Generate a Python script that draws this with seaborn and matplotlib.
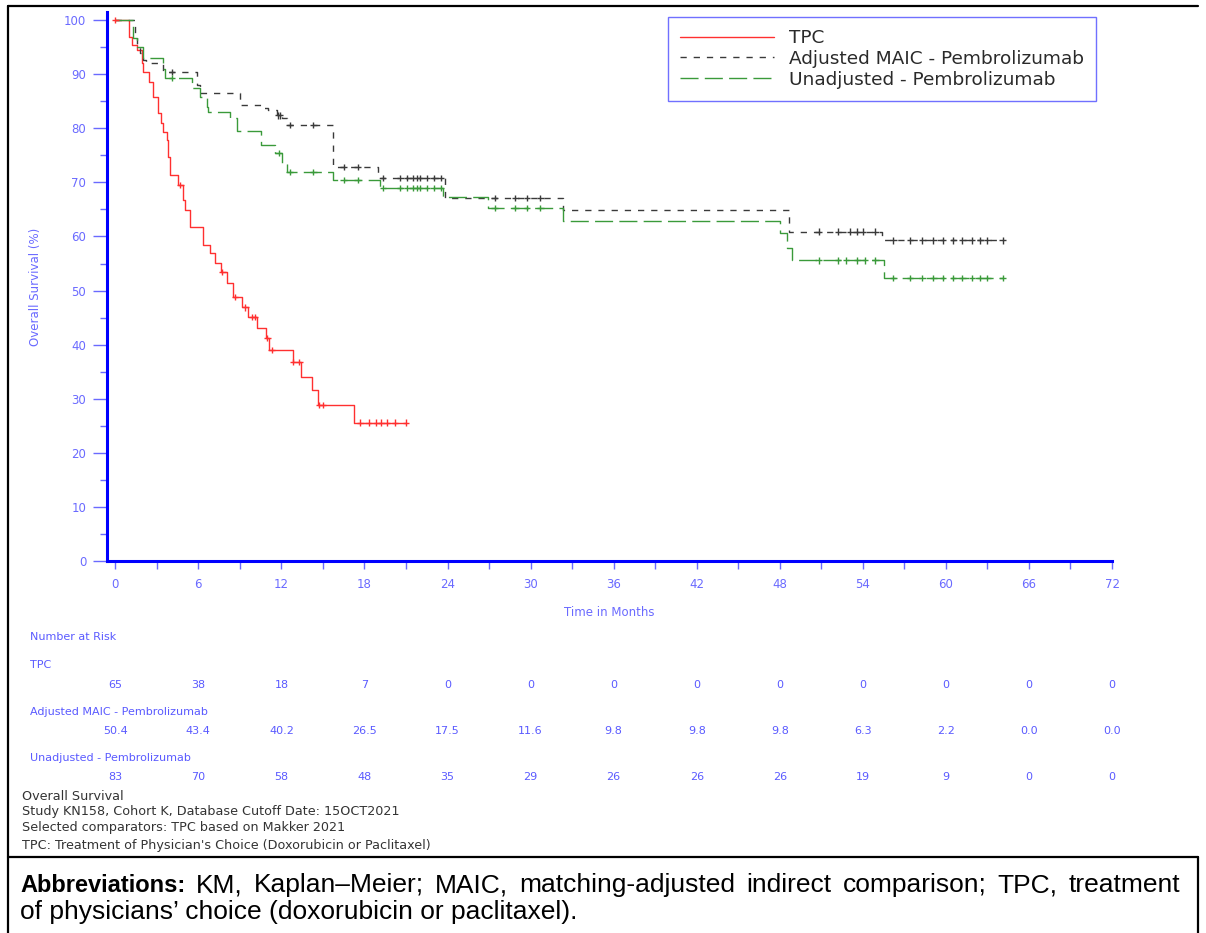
import numpy as np
import pandas as pd
import matplotlib
matplotlib.use('Agg')
import matplotlib.pyplot as plt
import matplotlib.transforms as mtransforms
from matplotlib.lines import Line2D
import seaborn as sns

groups = ['TPC', 'Adjusted MAIC - Pembrolizumab', 'Unadjusted - Pembrolizumab']

# Kaplan-Meier steps (months, % surviving)
tpc_t = [0, 0.98, 1.2, 1.6, 1.9, 2.0, 2.4, 2.75, 3.1, 3.3, 3.45, 3.7, 3.8, 3.95,
         4.5, 4.9, 5.05, 5.4, 6.35, 6.85, 7.2, 7.6, 8.1, 8.5, 9.17, 9.6, 10.25,
         10.9, 11.12, 12.85, 13.43, 14.22, 14.66, 17.26]
tpc_s = [100, 96.9, 95.4, 94.5, 92.0, 90.4, 88.5, 85.8, 82.8, 81.0, 79.3, 77.8, 74.7, 71.3,
         69.5, 66.7, 64.9, 61.7, 58.4, 56.9, 55.1, 53.4, 51.4, 48.8, 46.9, 45.1, 43.0,
         41.2, 39.0, 36.8, 34.0, 31.6, 28.8, 25.6]
tpc_end = 21.0
tpc_cens = [0, 4.7, 7.73, 8.65, 9.4, 9.9, 10.1, 10.98, 11.3, 12.85, 13.3, 14.7, 15.0,
            17.7, 18.3, 18.85, 19.2, 19.6, 20.2, 21.0]

adj_t = [0, 1.44, 1.6, 1.8, 2.0, 2.2, 3.47, 5.9, 6.1, 9.0, 10.5, 11.0, 11.7, 12.05,
         12.4, 15.75, 19.0, 23.8, 32.35, 48.7, 55.4]
adj_s = [100, 97.2, 95.0, 93.9, 92.6, 92.0, 90.4, 88.0, 86.5, 84.3, 83.7, 83.4, 82.4, 81.9,
         80.6, 72.8, 70.8, 67.1, 64.9, 60.9, 59.3]
adj_end = 64.1
adj_cens = [4.1, 11.75, 11.9, 12.6, 14.3, 16.5, 17.5, 19.35, 20.6, 21.1, 21.5, 21.8, 22.0,
            22.5, 23.0, 23.5, 27.4, 28.9, 29.75, 30.7, 50.8, 52.2, 53.1, 53.6, 54.0, 54.9,
            56.2, 57.4, 58.3, 59.1, 59.8, 60.5, 61.2, 61.9, 62.5, 63.0, 64.1]

una_t = [0, 1.3, 1.6, 2.0, 3.47, 3.6, 5.55, 6.1, 6.65, 6.7, 8.3, 8.8, 10.5, 11.55,
         12.05, 12.4, 15.75, 19.1, 23.7, 26.9, 32.35, 48.0, 48.5, 48.9, 55.5]
una_s = [100, 96.7, 95.0, 93.0, 91.0, 89.3, 87.4, 85.8, 84.0, 83.0, 81.9, 79.5, 77.0, 75.4,
         73.5, 71.9, 70.4, 69.0, 67.3, 65.3, 62.9, 60.6, 57.9, 55.6, 52.3]
una_end = 64.1
una_cens = [4.1, 11.8, 12.6, 14.3, 16.5, 17.5, 19.35, 20.6, 21.1, 21.5, 21.8, 22.0, 22.5,
            23.0, 23.5, 27.4, 28.9, 29.75, 30.7, 50.8, 52.2, 52.8, 53.6, 54.15, 54.9,
            56.2, 57.4, 58.3, 59.1, 59.8, 60.5, 61.2, 61.9, 62.5, 63.0, 64.1]

risk_times = [0, 6, 12, 18, 24, 30, 36, 42, 48, 54, 60, 66, 72]
risk_tpc = ['65', '38', '18', '7', '0', '0', '0', '0', '0', '0', '0', '0', '0']
risk_adj = ['50.4', '43.4', '40.2', '26.5', '17.5', '11.6', '9.8', '9.8', '9.8', '6.3', '2.2', '0.0', '0.0']
risk_una = ['83', '70', '58', '48', '35', '29', '26', '26', '26', '19', '9', '0', '0']

footnotes = ['Overall Survival',
             'Study KN158, Cohort K, Database Cutoff Date: 15OCT2021',
             'Selected comparators: TPC based on Makker 2021',
             "TPC: Treatment of Physician's Choice (Doxorubicin or Paclitaxel)"]

abbrev_words = ['KM,', 'Kaplan\u2013Meier;', 'MAIC,', 'matching-adjusted', 'indirect',
                'comparison;', 'TPC,', 'treatment']
abbrev_line2 = 'of physicians\u2019 choice (doxorubicin or paclitaxel).'

colors = {groups[0]: '#ff3030', groups[1]: '#3a3a3a', groups[2]: '#3a9a3a'}
dashes = {groups[0]: '', groups[1]: (4.5, 5), groups[2]: (13, 4.5)}

curves = []
marks = []
for g, t, s, end, cens in [(groups[0], tpc_t, tpc_s, tpc_end, tpc_cens),
                           (groups[1], adj_t, adj_s, adj_end, adj_cens),
                           (groups[2], una_t, una_s, una_end, una_cens)]:
    tt = list(t) + [end]
    ss = list(s) + [s[-1]]
    curves.append(pd.DataFrame({'time': tt, 'surv': ss, 'group': g}))
    idx = np.searchsorted(np.array(t), np.array(cens), side='right') - 1
    marks.append(pd.DataFrame({'time': cens, 'surv': np.array(s)[idx], 'group': g}))
curves = pd.concat(curves, ignore_index=True)
marks = pd.concat(marks, ignore_index=True)

sns.set_style('white')
plt.rcParams['font.family'] = ['DejaVu Sans']

W, H = 1206, 933
fig = plt.figure(figsize=(W / 100, H / 100), dpi=100)
ax = fig.add_axes([107 / W, 1 - 561 / H, (1112 - 107) / W, (561 - 12) / H])

sns.lineplot(data=curves, x='time', y='surv', hue='group', style='group',
             palette=colors, dashes=dashes, drawstyle='steps-post',
             estimator=None, sort=False, linewidth=1, legend=False, ax=ax)
sns.scatterplot(data=marks, x='time', y='surv', hue='group', palette=colors,
                marker='+', s=22, linewidth=1, legend=False, ax=ax, zorder=3)

blue = '#0000ff'
light = '#6a6aff'
ax.set_xlim(-0.6, 72)
ax.set_ylim(0, 101.5)
ax.set_xticks(np.arange(0, 73, 3))
ax.set_xticklabels([str(v) if v % 6 == 0 else '' for v in range(0, 73, 3)])
ax.set_yticks(np.arange(0, 101, 10))
ax.set_yticks(np.arange(5, 100, 10), minor=True)
for side in ['top', 'right']:
    ax.spines[side].set_visible(False)
for side in ['left', 'bottom']:
    ax.spines[side].set_color(blue)
    ax.spines[side].set_linewidth(2.2)
ax.spines['bottom'].set_bounds(-0.6, 72)
ax.tick_params(axis='x', which='major', direction='out', length=6, width=1,
               color=light, labelcolor=light, labelsize=8.5, pad=6, bottom=True)
ax.tick_params(axis='y', which='major', direction='out', length=10, width=1,
               color=light, labelcolor=light, labelsize=8.5, pad=5, left=True)
ax.tick_params(axis='y', which='minor', direction='out', length=5, width=1,
               color=light, left=True)
ax.set_xlabel('Time in Months', color=light, fontsize=8.5, labelpad=11)
ax.set_ylabel('Overall Survival (%)', color=light, fontsize=8.5, labelpad=16)

handles = [Line2D([], [], color=colors[g], lw=1, dashes=dashes[g] if dashes[g] else (None, None))
           for g in groups]
handles[0].set_linestyle('-')
leg = ax.legend(handles, groups, loc='upper left', bbox_to_anchor=(668 / W, 1 - 17 / H),
                bbox_transform=fig.transFigure, borderaxespad=0, fontsize=13.3,
                handlelength=5.1, handletextpad=0.8, borderpad=0.65, labelspacing=0.15,
                frameon=True, fancybox=False, framealpha=1)
leg.get_frame().set_edgecolor('#7070ff')
leg.get_frame().set_linewidth(1)
for txt in leg.get_texts():
    txt.set_color('#2a2a2a')

# number at risk table
risk_col = '#5a5aff'
tr = mtransforms.blended_transform_factory(ax.transData, fig.transFigure)
fig.text(30 / W, 1 - 637 / H, 'Number at Risk', color=risk_col, fontsize=8, va='center')
for label, vals, ly, vy in [(groups[0], risk_tpc, 665, 685),
                            (groups[1], risk_adj, 712, 731),
                            (groups[2], risk_una, 758, 777)]:
    fig.text(30 / W, 1 - ly / H, label, color=risk_col, fontsize=8, va='center')
    for t, v in zip(risk_times, vals):
        ax.text(t, 1 - vy / H, v, transform=tr, color=risk_col, fontsize=8,
                ha='center', va='center', clip_on=False)

for i, line in enumerate(footnotes):
    fig.text(22 / W, 1 - [797, 812, 828, 845][i] / H, line, color='#333333',
             fontsize=9.2, va='center')

# table borders
def hline(y, x0, x1):
    fig.add_artist(Line2D([x0 / W, x1 / W], [1 - y / H, 1 - y / H], color='black', lw=1.6))

def vline(x, y0, y1):
    fig.add_artist(Line2D([x / W, x / W], [1 - y0 / H, 1 - y1 / H], color='black', lw=1.6))

hline(6, 8, 1198)
hline(857, 8, 1198)
vline(8, 6, 933)
vline(1198, 857, 933)

# abbreviations caption, first line justified between x=20 and x=1180
fs = 19
renderer = fig.canvas.get_renderer()
parts = [fig.text(0, 1 - 885 / H, 'Abbreviations:', fontsize=17, fontweight='bold',
                  family='Liberation Sans', va='center', color='black')]
for w in abbrev_words:
    parts.append(fig.text(0, 1 - 885 / H, w, fontsize=fs, family='Liberation Sans',
                          va='center', color='black'))
widths = [p.get_window_extent(renderer).width for p in parts]
gap = (1180 - 20 - sum(widths)) / (len(parts) - 1)
x = 20
for p, w in zip(parts, widths):
    p.set_x(x / W)
    x += w + gap
fig.text(20 / W, 1 - 912 / H, abbrev_line2, fontsize=fs, family='Liberation Sans',
         va='center', color='black')

fig.savefig('out.png', dpi=100)
